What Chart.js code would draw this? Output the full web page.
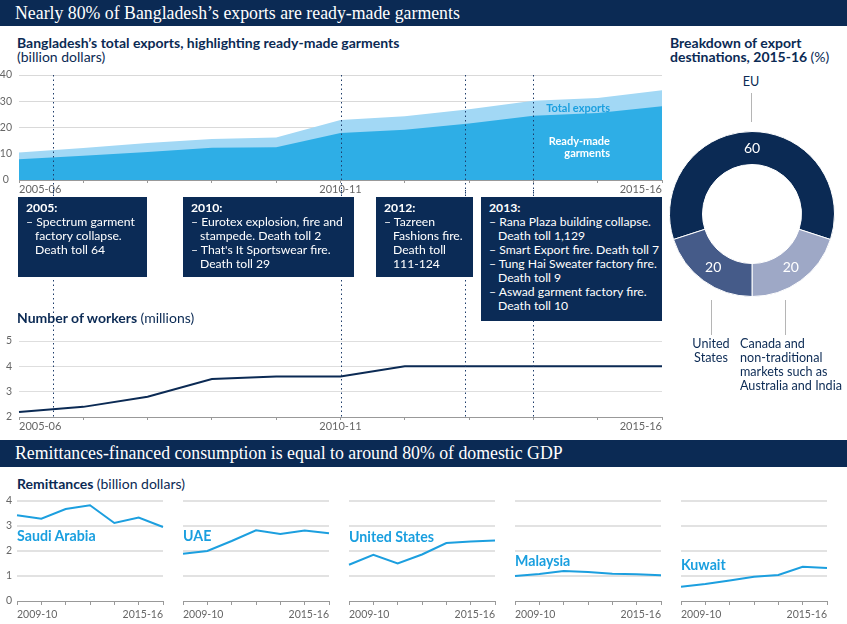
<!DOCTYPE html>
<html>
<head>
<meta charset="utf-8">
<script src="https://cdn.jsdelivr.net/npm/chart.js@4.4.0/dist/chart.umd.min.js"></script>
<style>
  body { margin: 0; width: 847px; height: 624px; position: relative; overflow: hidden; background: #fff; font-family: Lato, sans-serif; color: #0b2a54; }
  .abs { position: absolute; white-space: nowrap; }
  .bar { left: 0; width: 847px; height: 26px; background: #0b2a54; color: #fff; font-family: "Liberation Serif", serif; font-size: 17.8px; line-height: 26px; padding-left: 15px; box-sizing: border-box; }
  .ttl { font-weight: bold; font-size: 14px; line-height: 14.5px; }
  .ttl span { font-weight: normal; }
  .box { background: #0b2b56; color: #fff; font-size: 12.2px; line-height: 14px; padding: 4px 8px; box-sizing: border-box; }
  .box b { display: block; }
  .box div { padding-left: 9px; text-indent: -9px; }
  .lbl { font-size: 12.6px; line-height: 14px; }
  .lead { width: 0; border-left: 1px solid #b5b5b5; }
  .cty { font-weight: bold; font-size: 14.2px; color: #1a9fdf; line-height: 14px; }
  canvas { position: absolute; }
</style>
</head>
<body>

<div class="abs bar" style="top:0">Nearly 80% of Bangladesh’s exports are ready-made garments</div>

<div class="abs ttl" style="left:17px; top:35.5px">Bangladesh’s total exports, highlighting ready-made garments<br><span>(billion dollars)</span></div>
<div class="abs ttl" style="left:670px; top:35.5px">Breakdown of export<br>destinations, 2015-16 <span>(%)</span></div>

<canvas id="exports" width="668" height="134" style="left:0; top:62px"></canvas>
<div class="abs" style="left:540px; top:101px; width:70px; text-align:right; font-weight:bold; font-size:11px; color:#1a9fdf">Total exports</div>
<div class="abs" style="left:530px; top:135px; width:80px; text-align:right; font-weight:bold; font-size:11px; line-height:12px; color:#fff">Ready-made<br>garments</div>

<canvas id="workers" width="668" height="243" style="left:0; top:190px"></canvas>
<div class="abs ttl" style="left:17px; top:311px">Number of workers <span>(millions)</span></div>

<div class="abs box" style="left:18px; top:197px; width:129px; height:80px">
  <b>2005:</b>
  <div>– Spectrum garment<br>factory collapse.<br>Death toll 64</div>
</div>
<div class="abs box" style="left:183px; top:197px; width:171px; height:80px">
  <b>2010:</b>
  <div>– Eurotex explosion, fire and<br>stampede. Death toll 2</div>
  <div>– That's It Sportswear fire.<br>Death toll 29</div>
</div>
<div class="abs box" style="left:376px; top:197px; width:97px; height:80px">
  <b>2012:</b>
  <div>– Tazreen<br>Fashions fire.<br>Death toll<br>111-124</div>
</div>
<div class="abs box" style="left:481px; top:197px; width:181px; height:124px">
  <b>2013:</b>
  <div>– Rana Plaza building collapse.<br>Death toll 1,129</div>
  <div>– Smart Export fire. Death toll 7</div>
  <div>– Tung Hai Sweater factory fire.<br>Death toll 9</div>
  <div>– Aswad garment factory fire.<br>Death toll 10</div>
</div>

<canvas id="donut" width="166" height="166" style="left:669px; top:131px"></canvas>
<div class="abs lbl" style="left:731px; top:75px; width:40px; text-align:center">EU</div>
<div class="abs lead" style="left:751px; top:93px; height:29px"></div>
<div class="abs lead" style="left:711px; top:300px; height:35px"></div>
<div class="abs lead" style="left:785px; top:300px; height:35px"></div>
<div class="abs lbl" style="left:681px; top:337px; width:60px; text-align:center">United<br>States</div>
<div class="abs lbl" style="left:740px; top:337px">Canada and<br>non-traditional<br>markets such as<br>Australia and India</div>

<div class="abs bar" style="top:440px; height:27px; line-height:27px">Remittances-financed consumption is equal to around 80% of domestic GDP</div>
<div class="abs ttl" style="left:17px; top:477px">Remittances <span>(billion dollars)</span></div>

<canvas id="r0" width="166" height="126" style="left:0; top:495px"></canvas>
<canvas id="r1" width="166" height="126" style="left:166px; top:495px"></canvas>
<canvas id="r2" width="166" height="126" style="left:332px; top:495px"></canvas>
<canvas id="r3" width="166" height="126" style="left:498px; top:495px"></canvas>
<canvas id="r4" width="166" height="126" style="left:664px; top:495px"></canvas>
<div class="abs cty" style="left:17px; top:529px">Saudi Arabia</div>
<div class="abs cty" style="left:183px; top:529px">UAE</div>
<div class="abs cty" style="left:349px; top:530px">United States</div>
<div class="abs cty" style="left:515px; top:554px">Malaysia</div>
<div class="abs cty" style="left:681px; top:558px">Kuwait</div>

<script>
const years = ['2005-06', '2006-07', '2007-08', '2008-09', '2009-10', '2010-11', '2011-12', '2012-13', '2013-14', '2014-15', '2015-16'];
const totalExports = [10.5, 12.2, 14.1, 15.6, 16.2, 22.9, 24.3, 27.0, 30.2, 31.2, 34.2];
const garments = [7.9, 9.2, 10.7, 12.3, 12.5, 17.9, 19.1, 21.5, 24.5, 25.5, 28.1];
const workers = [2.2, 2.4, 2.8, 3.5, 3.6, 3.6, 4.0, 4.0, 4.0, 4.0, 4.0];
// where the events fall on the year axis (index units)
const eventPos = [0.53, 5, 6.94, 8];

const destLabels = ['EU', 'Canada and non-traditional markets', 'United States'];
const destShares = [60, 20, 20];

const remitYears = ['2009-10', '2010-11', '2011-12', '2012-13', '2013-14', '2014-15', '2015-16'];
const saudi = [3.43, 3.29, 3.68, 3.83, 3.12, 3.34, 2.96];
const uae = [1.89, 2.00, 2.40, 2.83, 2.68, 2.82, 2.71];
const usa = [1.45, 1.85, 1.50, 1.86, 2.32, 2.38, 2.42];
const malaysia = [1.00, 1.08, 1.20, 1.16, 1.09, 1.07, 1.03];
const kuwait = [0.57, 0.68, 0.82, 0.97, 1.04, 1.37, 1.32];

const navy = '#0b2a54';
const blue = '#1c9fdf';
const tickFont = { family: 'Lato', size: 11 };
Chart.defaults.animation = false;
Chart.defaults.plugins.legend.display = false;
Chart.defaults.plugins.tooltip.enabled = false;
Chart.defaults.color = '#666';

// fixed y-axis width and no extra room for the top label, so all panels line up
const fixY = w => s => { s.width = w; s.paddingTop = 0; s.paddingBottom = 0; };

function eventLines(toCanvasBottom) {
  return {
    id: 'events',
    afterDatasetsDraw(chart) {
      const { ctx, chartArea, scales: { x } } = chart;
      ctx.save();
      ctx.strokeStyle = '#1d3c6a';
      ctx.lineWidth = 1;
      ctx.setLineDash([1.5, 3]);
      eventPos.forEach(p => {
        const px = Math.round(x.getPixelForValue(p)) + 0.5;
        ctx.beginPath();
        ctx.moveTo(px, toCanvasBottom ? chartArea.top : 0);
        ctx.lineTo(px, toCanvasBottom ? chart.height : chartArea.bottom);
        ctx.stroke();
      });
      ctx.restore();
    }
  };
}

function yearAxis(labels) {
  return {
    offset: false,
    grid: { drawOnChartArea: false, drawTicks: true, tickLength: 3, color: '#999' },
    border: { color: '#999' },
    ticks: {
      font: tickFont, padding: 0, maxRotation: 0, autoSkip: false, align: 'inner',
      callback: (v, i) => (i === 0 || i === labels.length - 1 || labels[i] === '2010-11') ? labels[i] : ''
    },
    afterFit: s => { s.height = 16; }
  };
}

new Chart(document.getElementById('exports'), {
  type: 'line',
  data: {
    labels: years,
    datasets: [
      { data: garments, fill: 'origin', backgroundColor: '#2eaee6', borderWidth: 0, pointRadius: 0 },
      { data: totalExports, fill: 'origin', backgroundColor: '#a2d8f5', borderWidth: 0, pointRadius: 0 }
    ]
  },
  options: {
    responsive: false,
    layout: { padding: { top: 13, right: 6 } },
    scales: {
      x: yearAxis(years),
      y: {
        min: 0, max: 40, z: 1,
        grid: { color: 'rgba(0,0,0,0.15)', drawTicks: false },
        border: { display: false },
        ticks: { stepSize: 5, padding: 7, crossAlign: 'center', font: { family: 'Lato', size: 10.5 },
          callback: v => v % 10 === 0 ? v : '' },
        afterFit: fixY(19)
      }
    }
  },
  plugins: [eventLines(true)]
});

new Chart(document.getElementById('workers'), {
  type: 'line',
  data: {
    labels: years,
    datasets: [{ data: workers, borderColor: navy, borderWidth: 2, pointRadius: 0, tension: 0 }]
  },
  options: {
    responsive: false,
    layout: { padding: { top: 151, right: 6 } },
    scales: {
      x: yearAxis(years),
      y: {
        min: 2, max: 5,
        grid: { color: '#dedede', drawTicks: false },
        border: { display: false },
        ticks: { stepSize: 0.5, padding: 7, crossAlign: 'center', font: { family: 'Lato', size: 10.5 },
          callback: v => Number.isInteger(v) ? v : '' },
        afterFit: fixY(19)
      }
    }
  },
  plugins: [eventLines(false)]
});

new Chart(document.getElementById('donut'), {
  type: 'doughnut',
  data: {
    labels: destLabels,
    datasets: [{ data: destShares, backgroundColor: [navy, '#9ea8c6', '#455b89'], borderColor: '#fff', borderWidth: 1 }]
  },
  options: {
    responsive: false,
    rotation: -108,
    cutout: '60%',
    layout: { padding: 0 }
  },
  plugins: [{
    id: 'sliceValues',
    afterDatasetsDraw(chart) {
      const { ctx } = chart;
      ctx.save();
      ctx.fillStyle = '#fff';
      ctx.font = '14px Lato';
      ctx.textAlign = 'center';
      ctx.textBaseline = 'middle';
      chart.getDatasetMeta(0).data.forEach((arc, i) => {
        const p = arc.tooltipPosition();
        ctx.fillText(destShares[i], p.x, p.y);
      });
      ctx.restore();
    }
  }]
});

const remit = [saudi, uae, usa, malaysia, kuwait];
remit.forEach((series, k) => {
  new Chart(document.getElementById('r' + k), {
    type: 'line',
    data: {
      labels: remitYears,
      datasets: [{ data: series, borderColor: blue, borderWidth: 2, pointRadius: 0, tension: 0 }]
    },
    options: {
      responsive: false,
      layout: { padding: { top: 6, right: 1 } },
      scales: {
        x: {
          offset: false,
          grid: { drawOnChartArea: false, drawTicks: true, tickLength: 4, color: '#999' },
          border: { color: '#999' },
          ticks: { font: { family: 'Lato', size: 10.5 }, padding: 3, maxRotation: 0, autoSkip: false, align: 'inner',
            callback: (v, i) => (i === 0 || i === remitYears.length - 1) ? remitYears[i] : '' },
          afterFit: s => { s.height = 20; }
        },
        y: {
          min: 0, max: 4,
          grid: { color: c => c.tick.value === 0 ? 'transparent' : '#e2e2e2', lineWidth: 2, drawTicks: false },
          border: { display: false },
          ticks: { display: k === 0, stepSize: 1, padding: 5, crossAlign: 'center', font: { family: 'Lato', size: 10.5 } },
          afterFit: fixY(17)
        }
      }
    }
  });
});
</script>
</body>
</html>
